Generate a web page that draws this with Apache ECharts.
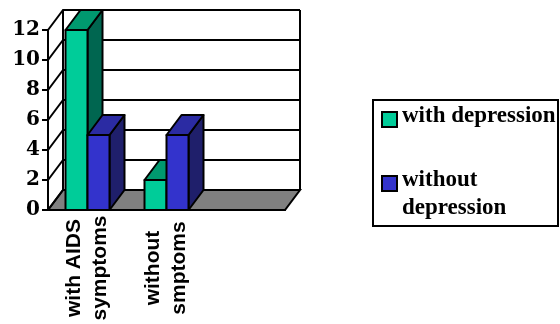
<!DOCTYPE html>
<html>
<head>
<meta charset="utf-8">
<script src="https://cdn.jsdelivr.net/npm/echarts@6/dist/echarts.min.js"></script>
<style>
  html, body { margin: 0; padding: 0; background: #ffffff; }
  #chart { width: 560px; height: 324px; }
</style>
</head>
<body>
<div id="chart"></div>
<script>
// Patient groups along the x axis (third slot left empty)
const categories = ['with AIDS\nsymptoms', 'without\nsmptoms', ''];
// Counts per group
const withDepression = [12, 2];
const withoutDepression = [5, 5];
const seriesNames = ['with depression', 'without depression'];
const legendLabels = [['with depression'], ['without', 'depression']];
// Value axis ticks
const yTicks = [0, 2, 4, 6, 8, 10, 12];

// Pseudo-3D depth offset of the back wall and the columns
const DX = 15, DY = -20;
const BAR_W = 22;

const palette = {
  green: { front: '#00cc99', top: '#00996f', side: '#006650' },
  blue:  { front: '#3333cc', top: '#2b2ba3', side: '#1f1f6b' }
};

const chart = echarts.init(document.getElementById('chart'), null, { renderer: 'canvas' });

// Floor, side wall diagonals and right edge of the back wall
function renderFrame(params, api) {
  const cs = params.coordSys;
  const y0 = api.coord([0, 0])[1];
  const yMax = api.coord([0, yTicks[yTicks.length - 1]])[1];
  const xl = cs.x, xr = cs.x + cs.width;
  const children = [];
  children.push({
    type: 'polygon',
    shape: { points: [[xl, y0], [xr, y0], [xr + DX, y0 + DY], [xl + DX, y0 + DY]] },
    style: { fill: '#808080', stroke: '#000', lineWidth: 2 }
  });
  yTicks.forEach(function (v) {
    const y = api.coord([0, v])[1];
    children.push({
      type: 'line',
      shape: { x1: xl, y1: y, x2: xl + DX, y2: y + DY },
      style: { stroke: '#000', lineWidth: 2 }
    });
  });
  children.push({
    type: 'line',
    shape: { x1: xr + DX, y1: yMax + DY, x2: xr + DX, y2: y0 + DY },
    style: { stroke: '#000', lineWidth: 2 }
  });
  return { type: 'group', children: children };
}

function makeColumnRenderer(colors, side) {
  return function (params, api) {
    const cat = api.value(0);
    const val = api.value(1);
    const base = api.coord([cat, 0]);
    const top = api.coord([cat, val]);
    const x0 = side === 0 ? base[0] - BAR_W : base[0];
    const x1 = x0 + BAR_W;
    const yT = top[1], yB = base[1];
    const stroke = { stroke: '#000', lineWidth: 2, lineJoin: 'round' };
    return {
      type: 'group',
      children: [
        {
          type: 'polygon',
          shape: { points: [[x1, yT], [x1 + DX, yT + DY], [x1 + DX, yB + DY], [x1, yB]] },
          style: Object.assign({ fill: colors.side }, stroke)
        },
        {
          type: 'polygon',
          shape: { points: [[x0, yT], [x1, yT], [x1 + DX, yT + DY], [x0 + DX, yT + DY]] },
          style: Object.assign({ fill: colors.top }, stroke)
        },
        {
          type: 'rect',
          shape: { x: x0, y: yT, width: BAR_W, height: yB - yT },
          style: Object.assign({ fill: colors.front }, stroke)
        }
      ]
    };
  };
}

const FRONT = { left: 48, top: 30, width: 237, height: 180 };
const BACK = { left: FRONT.left + DX, top: FRONT.top + DY, width: FRONT.width, height: FRONT.height };

// Legend drawn as a boxed key
const legendColors = [palette.green.front, palette.blue.front];
const legendRowsY = [112, 176];
const legendGraphics = [{
  type: 'rect',
  shape: { x: 373, y: 100, width: 185, height: 126 },
  style: { fill: '#fff', stroke: '#000', lineWidth: 2 }
}];
legendLabels.forEach(function (lines, i) {
  legendGraphics.push({
    type: 'rect',
    shape: { x: 382, y: legendRowsY[i], width: 15, height: 15 },
    style: { fill: legendColors[i], stroke: '#000', lineWidth: 2 }
  });
  lines.forEach(function (t, j) {
    legendGraphics.push({
      type: 'text',
      x: 402,
      y: legendRowsY[i] + 16 + j * 28,
      style: {
        text: t,
        fill: '#000',
        font: 'bold 23px "Liberation Serif", "Times New Roman", serif',
        verticalAlign: 'bottom',
        align: 'left'
      }
    });
  });
});

const option = {
  backgroundColor: '#ffffff',
  animation: false,
  grid: [
    Object.assign({ containLabel: false }, FRONT),
    Object.assign({ containLabel: false }, BACK)
  ],
  xAxis: [
    {
      type: 'category',
      gridIndex: 0,
      data: categories,
      axisLine: { show: true, lineStyle: { color: '#000', width: 2 } },
      axisTick: { show: false },
      axisLabel: {
        rotate: 90,
        align: 'center',
        verticalAlign: 'middle',
        margin: 58,
        interval: 0,
        color: '#000',
        fontFamily: '"Liberation Sans", Arial, sans-serif',
        fontWeight: 'bold',
        fontSize: 21,
        lineHeight: 26
      },
      splitLine: { show: false }
    },
    {
      type: 'category',
      gridIndex: 1,
      data: categories,
      show: false
    }
  ],
  yAxis: [
    {
      type: 'value',
      gridIndex: 0,
      min: 0,
      max: 12,
      interval: 2,
      axisLine: { show: true, lineStyle: { color: '#000', width: 2 } },
      axisTick: { show: true, length: 6, lineStyle: { color: '#000', width: 2 } },
      axisLabel: {
        margin: 8,
        color: '#000',
        fontFamily: '"DejaVu Serif", "Liberation Serif", serif',
        fontWeight: 'bold',
        fontSize: 20
      },
      splitLine: { show: false }
    },
    {
      type: 'value',
      gridIndex: 1,
      min: 0,
      max: 12,
      interval: 2,
      axisLine: { show: true, lineStyle: { color: '#000', width: 2 } },
      axisTick: { show: false },
      axisLabel: { show: false },
      splitLine: { show: true, lineStyle: { color: '#000', width: 2 } }
    }
  ],
  series: [
    {
      type: 'custom',
      name: 'frame',
      xAxisIndex: 0,
      yAxisIndex: 0,
      clip: false,
      silent: true,
      renderItem: renderFrame,
      data: [[0, 0]],
      z: 1
    },
    {
      type: 'custom',
      name: seriesNames[0],
      xAxisIndex: 0,
      yAxisIndex: 0,
      clip: false,
      itemStyle: { color: palette.green.front },
      renderItem: makeColumnRenderer(palette.green, 0),
      encode: { x: 0, y: 1 },
      data: withDepression.map(function (v, i) { return [i, v]; }),
      z: 2
    },
    {
      type: 'custom',
      name: seriesNames[1],
      xAxisIndex: 0,
      yAxisIndex: 0,
      clip: false,
      itemStyle: { color: palette.blue.front },
      renderItem: makeColumnRenderer(palette.blue, 1),
      encode: { x: 0, y: 1 },
      data: withoutDepression.map(function (v, i) { return [i, v]; }),
      z: 3
    }
  ],
  graphic: legendGraphics
};

chart.setOption(option);
</script>
</body>
</html>
